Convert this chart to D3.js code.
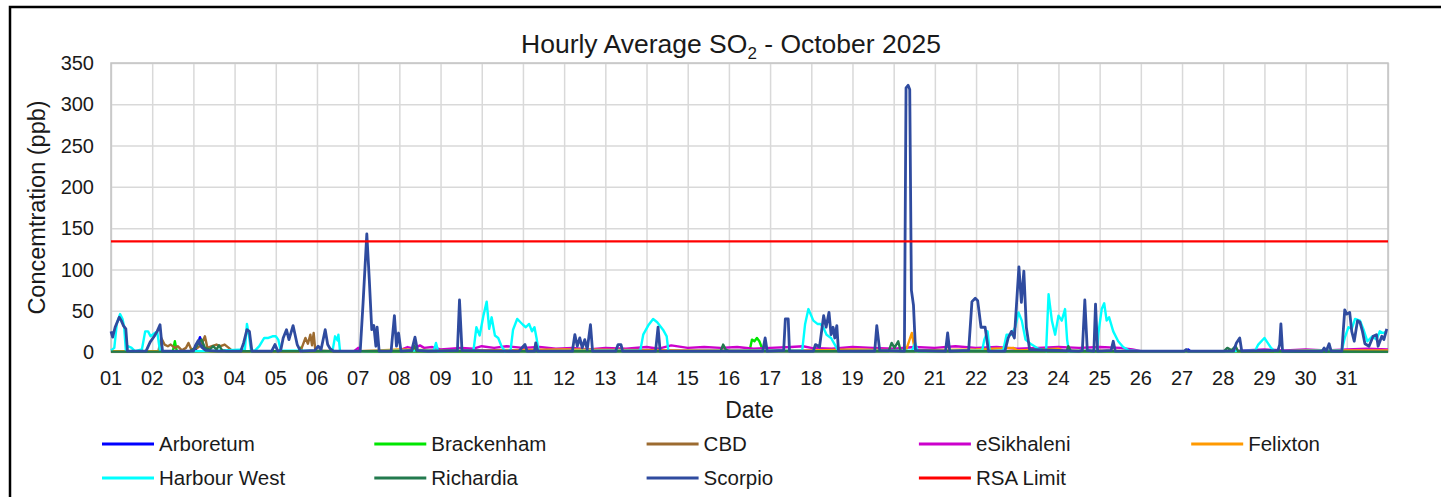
<!DOCTYPE html>
<html lang="en">
<head>
    <meta charset="UTF-8">
    <title>Hourly Average SO2 - October 2025</title>
    <script src="https://d3js.org/d3.v7.min.js"></script>
    <style>
        body { margin: 0; background: #fff; }
        text { font-family: "Liberation Sans", Arial, sans-serif; fill: #1a1a1a; }
    </style>
</head>
<body>
    <div id="chart"></div>
    <script>
        // day labels on the x axis (gridline at the start of each day)
        const dayLabels = d3.range(1, 32).map(d => d3.format('02')(d));
        const yTicks = [0, 50, 100, 150, 200, 250, 300, 350];
        const rsaLimit = 134;

        // readings as [day of October (fractional), ppb]
        const arboretum = [[1,0.5],[3.05,1],[3.12,12],[3.16,18],[3.22,10],[3.3,2],[3.4,1],[20.5,1],[20.55,3],[20.6,1],
            [27.1,1],[27.15,3],[27.2,1],[32,0.5]];
        const brackenham = [[1,0.5],[2.5,0.5],[2.55,13],[2.6,0.5],[5.55,0.5],[5.6,5],[5.65,0.5],[16.5,1],[16.56,15],
            [16.62,13],[16.68,17],[16.74,13],[16.8,5],[16.86,1],[32,0.5]];
        const cbd = [[1,1],[2.15,1],[2.22,17],[2.3,9],[2.38,7],[2.45,9],[2.55,5],[2.62,7],[2.72,2],[2.82,5],[2.88,11],
            [2.95,3],[3.1,5],[3.2,9],[3.28,19],[3.34,5],[3.45,7],[3.56,9],[3.66,7],[3.76,9],[3.86,5],[3.95,1],[5.6,1],
            [5.66,9],[5.72,17],[5.78,10],[5.84,21],[5.88,8],[5.92,23],[5.96,2],[6.5,1],[32,1]];
        const esikhaleni = [[1,1],[6.9,1],[7.0,5],[7.05,1],[8.0,2],[8.2,6],[8.35,4],[8.5,8],[8.6,5],[8.8,6],[9.0,3],
            [9.5,5],[9.8,4],[10.0,7],[10.3,5],[10.6,7],[11.0,5],[11.4,6],[11.8,4],[12.2,5],[12.6,3],[13.0,5],[13.5,4],
            [14.0,6],[14.3,4],[14.6,8],[15.0,5],[15.4,6],[15.8,5],[16.2,6],[16.6,4],[17.0,5],[17.5,6],[17.8,7],[18.0,5],
            [18.5,4],[19.0,6],[19.5,5],[20.0,4],[20.5,6],[21.0,5],[21.5,7],[22.0,5],[22.5,6],[23.0,4],[23.5,5],[24.0,6],
            [24.5,5],[25.0,6],[25.5,5],[25.8,3],[26.0,1],[28.0,1],[28.5,2],[29.0,3],[29.5,2],[30.0,3],[30.5,2],[31.0,3],
            [31.5,4],[32,3]];
        const felixton = [[1,1],[7.0,1],[7.5,2],[8,3],[9,2],[10,2],[12,3],[15,2],[18,2],[19,3],[20.3,2],[20.38,14],
            [20.44,23],[20.5,6],[20.55,2],[22,3],[22.9,5],[23,2],[24,4],[24.1,2],[26,1],[28,1],[29.5,1],[30,2],[31,2],[32,2]];
        const harbourWest = [[1.0,2],[1.08,5],[1.14,34],[1.22,46],[1.28,40],[1.32,30],[1.36,2],[1.42,7],[1.5,5],[1.58,1],
            [1.75,3],[1.83,25],[1.9,25],[1.96,19],[2.04,22],[2.12,25],[2.19,1],[2.5,1],[3.3,1],[4.25,3],[4.3,34],[4.35,20],
            [4.4,1],[4.5,2],[4.6,7],[4.72,17],[4.82,17],[4.92,19],[5.0,19],[5.06,15],[5.12,2],[6.3,1],[6.38,2],[6.44,19],
            [6.5,14],[6.52,21],[6.56,1],[7.0,1],[8.84,2],[8.89,11],[8.94,1],[9.8,2],[9.87,30],[9.95,20],[10.04,44],
            [10.12,61],[10.18,28],[10.24,42],[10.32,20],[10.4,17],[10.48,7],[10.56,1],[10.7,2],[10.76,27],[10.86,40],
            [10.94,36],[11.0,33],[11.07,30],[11.15,34],[11.22,25],[11.28,30],[11.33,17],[11.38,1],[13.85,2],[13.92,21],
            [14.04,32],[14.16,40],[14.26,36],[14.4,27],[14.49,19],[14.53,1],[17.78,2],[17.85,34],[17.93,52],[18.05,38],
            [18.15,34],[18.22,34],[18.29,30],[18.37,21],[18.48,17],[18.58,8],[18.66,1],[20.45,2],[20.52,11],[20.58,1],
            [22.15,2],[22.2,15],[22.28,25],[22.33,1],[22.66,2],[22.74,21],[22.86,21],[22.95,30],[23.03,48],[23.11,38],
            [23.2,15],[23.35,9],[23.51,4],[23.7,1],[23.76,70],[23.84,38],[23.92,21],[24.0,44],[24.08,38],[24.16,52],
            [24.21,15],[24.25,1],[24.94,2],[24.97,23],[25.05,52],[25.11,59],[25.17,38],[25.23,42],[25.33,25],[25.45,13],
            [25.57,6],[25.7,2],[26.0,1],[28.3,1],[28.78,2],[28.85,9],[29.0,17],[29.08,11],[29.16,5],[29.25,1],[30.88,2],
            [30.95,17],[31.04,30],[31.12,28],[31.2,40],[31.32,38],[31.4,28],[31.5,13],[31.62,19],[31.72,15],[31.8,25],
            [31.88,23],[31.97,25]];
        const richardia = [[1,0.5],[2.9,0.5],[3.05,5],[3.12,11],[3.2,15],[3.28,5],[3.4,3],[3.48,7],[3.56,3],[3.62,8],
            [3.7,2],[3.8,1],[8.3,1],[8.36,8],[8.42,1],[15.8,1],[15.86,9],[15.92,3],[16.0,1],[19.88,1],[19.95,11],
            [20.02,5],[20.11,13],[20.17,1],[24.2,1],[24.24,7],[24.3,1],[28.02,1],[28.1,5],[28.2,2],[28.3,7],[28.36,1],[32,0.5]];
        const scorpio = [[1.00,25],[1.04,18],[1.10,30],[1.20,42],[1.25,38],[1.30,32],[1.36,28],[1.40,1],[1.6,1],[1.85,1],
            [1.95,12],[2.05,19],[2.12,25],[2.19,33],[2.25,1],[2.5,1],[3.0,1],[3.05,8],[3.12,14],[3.2,6],[3.3,2],[3.6,1],
            [4.15,1],[4.22,11],[4.3,27],[4.36,25],[4.42,1],[4.9,1],[4.98,9],[5.05,1],[5.12,2],[5.18,17],[5.26,27],
            [5.32,15],[5.42,32],[5.52,9],[5.6,1],[5.95,2],[6.03,7],[6.1,3],[6.2,27],[6.26,9],[6.32,4],[6.4,1],[7.05,1],
            [7.12,60],[7.21,143],[7.27,88],[7.33,27],[7.38,32],[7.43,7],[7.46,30],[7.51,1],[7.8,1],[7.88,44],[7.93,7],
            [7.98,23],[8.04,1],[8.3,2],[8.38,18],[8.44,2],[8.7,1],[9.41,2],[9.46,63],[9.52,2],[10.9,1],[11.05,9],
            [11.1,1],[11.28,1],[11.31,11],[11.36,1],[12.2,1],[12.26,21],[12.32,7],[12.38,17],[12.44,5],[12.5,15],
            [12.56,3],[12.64,33],[12.69,1],[13.25,1],[13.31,9],[13.38,9],[13.42,1],[14.22,1],[14.28,30],[14.33,1],
            [16.82,1],[16.88,17],[16.93,1],[17.33,2],[17.37,40],[17.44,40],[17.47,1],[18.05,1],[18.1,9],[18.2,6],
            [18.3,44],[18.36,30],[18.43,48],[18.48,21],[18.53,30],[18.57,17],[18.62,32],[18.66,1],[19.54,1],[19.59,32],
            [19.66,2],[20.26,1],[20.3,320],[20.35,323],[20.39,318],[20.43,75],[20.48,57],[20.53,2],[21.26,1],[21.31,23],
            [21.36,1],[21.82,2],[21.9,61],[21.98,65],[22.04,62],[22.12,30],[22.22,30],[22.3,1],[22.7,1],[22.78,17],
            [22.86,25],[22.93,17],[23.04,103],[23.1,60],[23.16,98],[23.22,30],[23.3,3],[24.5,1],[24.58,2],[24.64,63],
            [24.7,2],[24.86,1],[24.9,58],[24.95,1],[25.28,2],[25.33,13],[25.38,1],[27.05,1],[27.1,3],[27.15,1],[28.25,1],
            [28.32,11],[28.4,17],[28.45,1],[29.33,2],[29.37,9],[29.4,34],[29.44,1],[30.4,1],[30.45,5],[30.5,1],[30.57,10],
            [30.62,1],[30.88,1],[30.95,51],[31.0,46],[31.07,48],[31.12,25],[31.18,13],[31.26,38],[31.32,36],[31.38,25],
            [31.44,10],[31.54,7],[31.64,19],[31.72,21],[31.76,7],[31.85,19],[31.9,15],[31.97,28]];

        const seriesNames = ['Arboretum', 'Brackenham', 'CBD', 'eSikhaleni', 'Felixton', 'Harbour West', 'Richardia', 'Scorpio', 'RSA Limit'];
        const seriesColors = ['#0000ff', '#00e600', '#9c6b30', '#cc00cc', '#ff9900', '#00ffff', '#237a4e', '#2f4b9f', '#ff0000'];
        const seriesValues = [arboretum, brackenham, cbd, esikhaleni, felixton, harbourWest, richardia, scorpio, [[1, rsaLimit], [32, rsaLimit]]];

        const width = 1441, height = 497;
        const plot = { left: 111, top: 63, right: 1388, bottom: 352 };

        const svg = d3.select('#chart').append('svg')
            .attr('width', width)
            .attr('height', height);

        // outer frame (runs past the right and bottom edge)
        svg.append('rect')
            .attr('x', 10).attr('y', 7)
            .attr('width', 1460).attr('height', 520)
            .attr('fill', 'none')
            .attr('stroke', '#000')
            .attr('stroke-width', 2.5);

        const x = d3.scaleLinear().domain([1, 32]).range([plot.left, plot.right]);
        const y = d3.scaleLinear().domain([0, 350]).range([plot.bottom, plot.top]);

        // gridlines
        svg.append('g')
            .attr('transform', `translate(0,${plot.bottom})`)
            .call(d3.axisBottom(x).tickValues(d3.range(1, 33)).tickSize(-(plot.bottom - plot.top)).tickFormat(''))
            .call(g => g.select('.domain').remove())
            .call(g => g.selectAll('line').attr('stroke', '#d9d9d9').attr('stroke-width', 1.5));
        svg.append('g')
            .attr('transform', `translate(${plot.left},0)`)
            .call(d3.axisLeft(y).tickValues(yTicks).tickSize(-(plot.right - plot.left)).tickFormat(''))
            .call(g => g.select('.domain').remove())
            .call(g => g.selectAll('line').attr('stroke', '#d9d9d9').attr('stroke-width', 1.5));

        svg.append('rect')
            .attr('x', plot.left).attr('y', plot.top)
            .attr('width', plot.right - plot.left).attr('height', plot.bottom - plot.top)
            .attr('fill', 'none')
            .attr('stroke', '#c3c3c3')
            .attr('stroke-width', 1.5);

        // tick labels
        svg.append('g').selectAll('text')
            .data(yTicks)
            .join('text')
            .attr('x', 94)
            .attr('y', d => y(d))
            .attr('dy', '0.36em')
            .attr('text-anchor', 'end')
            .style('font-size', '20px')
            .text(d => d);
        svg.append('g').selectAll('text')
            .data(dayLabels)
            .join('text')
            .attr('x', (d, i) => x(i + 1))
            .attr('y', 385)
            .attr('text-anchor', 'middle')
            .style('font-size', '20px')
            .text(d => d);

        // series
        const line = d3.line().x(d => x(d[0])).y(d => y(d[1]));
        svg.append('g').selectAll('path')
            .data(seriesValues)
            .join('path')
            .attr('d', line)
            .attr('fill', 'none')
            .attr('stroke', (d, i) => seriesColors[i])
            .attr('stroke-width', (d, i) => i === 7 ? 2.8 : 2.4)
            .attr('stroke-linejoin', 'round');

        // titles
        const title = svg.append('text')
            .attr('x', 731).attr('y', 53)
            .attr('text-anchor', 'middle')
            .style('font-size', '26.5px');
        title.append('tspan').text('Hourly Average SO');
        title.append('tspan').attr('dy', 6).style('font-size', '17px').text('2');
        title.append('tspan').attr('dy', -6).text(' - October 2025');

        svg.append('text')
            .attr('x', (plot.left + plot.right) / 2).attr('y', 418)
            .attr('text-anchor', 'middle')
            .style('font-size', '23px')
            .text('Date');

        svg.append('text')
            .attr('transform', `translate(44.5,${(plot.top + plot.bottom) / 2}) rotate(-90)`)
            .attr('text-anchor', 'middle')
            .style('font-size', '23.5px')
            .text('Concemtration (ppb)');

        // legend, 5 columns x 2 rows
        const legend = svg.append('g').selectAll('g')
            .data(seriesNames)
            .join('g')
            .attr('transform', (d, i) => `translate(${102 + (i % 5) * 272.3},${444 + Math.floor(i / 5) * 34})`);
        legend.append('line')
            .attr('x1', 0).attr('x2', 52)
            .attr('stroke', (d, i) => seriesColors[i])
            .attr('stroke-width', 3);
        legend.append('text')
            .attr('x', 57)
            .attr('dy', '0.36em')
            .style('font-size', '20.5px')
            .text(d => d);
    </script>
</body>
</html>
